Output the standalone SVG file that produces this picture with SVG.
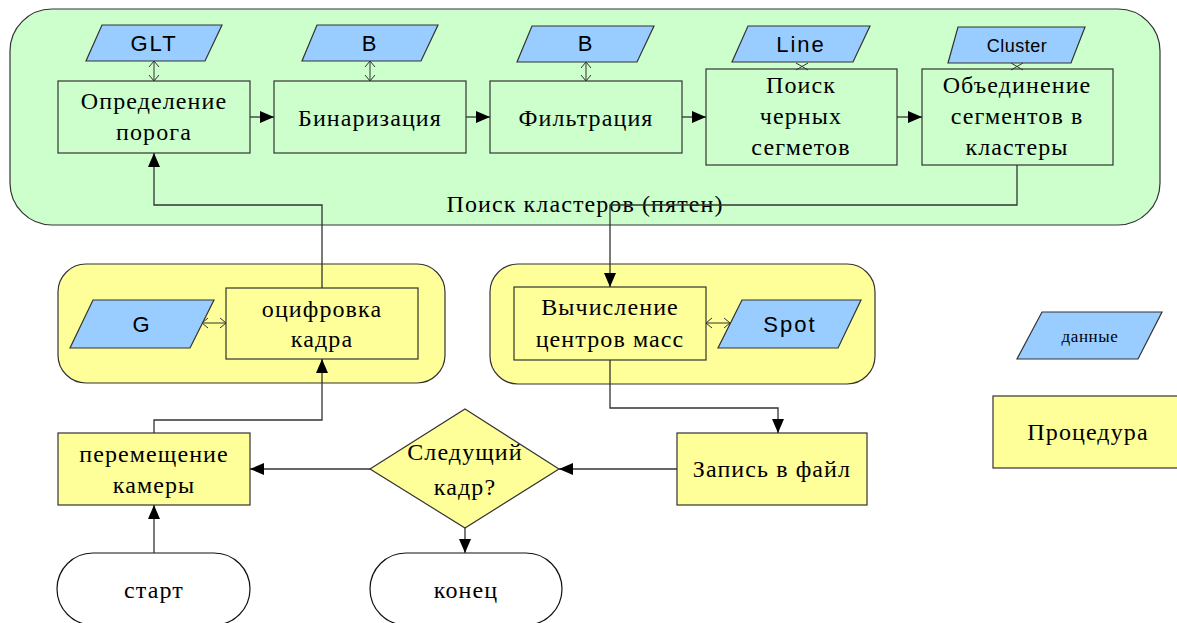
<svg xmlns="http://www.w3.org/2000/svg" width="1177" height="623" viewBox="0 0 1177 623">
<style>
.serif{font-family:"Liberation Serif","Times New Roman",serif;font-size:24px;fill:#000;text-anchor:middle;letter-spacing:1.1px}
.sans{font-family:"Liberation Sans",Arial,sans-serif;font-size:22px;fill:#000;text-anchor:middle;letter-spacing:2px}
.box{stroke:#333;stroke-width:1.2}
.green{fill:#ccffcc}
.yellow{fill:#ffff99}
.blue{fill:#99ccff}
.term{fill:#fff;stroke:#111;stroke-width:1.2}
.conn{fill:none;stroke:#333;stroke-width:1.3}
.dbl{fill:none;stroke:#333;stroke-width:1}
</style>
<defs>
<marker id="arr" markerUnits="userSpaceOnUse" markerWidth="14" markerHeight="12" refX="14" refY="6" orient="auto">
<path d="M0,0 L14,6 L0,12 z" fill="#000"/>
</marker>
<marker id="open" markerUnits="userSpaceOnUse" markerWidth="8" markerHeight="12" refX="7" refY="6" orient="auto-start-reverse">
<path d="M1,1 L7,6 L1,11" fill="none" stroke="#333" stroke-width="1"/>
</marker>
</defs>
<rect width="1177" height="623" fill="#fff"/>

<g id="cluster-search">
<rect class="box green" x="10" y="9" width="1150" height="216" rx="42" ry="42"/>
<text class="serif" x="585" y="212">Поиск кластеров (пятен)</text>
</g>
<g id="digitize-group"><rect class="box yellow" x="58" y="264" width="387" height="119" rx="28" ry="28"/></g>
<g id="centers-group"><rect class="box yellow" x="490" y="264" width="385" height="120" rx="28" ry="28"/></g>

<g id="glt"><polygon class="box blue" points="102,25 222,25 205,61 86,61"/><text class="sans" x="154" y="51">GLT</text></g>
<g id="b1"><polygon class="box blue" points="317,25 438,25 421,61 302,61"/><text class="sans" x="370" y="51">B</text></g>
<g id="b2"><polygon class="box blue" points="532,26 654,26 637,62 517,62"/><text class="sans" x="586" y="51">B</text></g>
<g id="line"><polygon class="box blue" points="748,26 870,26 853,62 732,62"/><text class="sans" x="801" y="52">Line</text></g>
<g id="cluster"><polygon class="box blue" points="958,27 1085,27 1071,63 948,63"/><text class="sans" x="1017" y="52" style="font-size:18px;letter-spacing:0.5px">Cluster</text></g>

<g id="threshold"><rect class="box green" x="58" y="81" width="192" height="72"/><text class="serif" x="154" y="109">Определение</text><text class="serif" x="154" y="140">порога</text></g>
<g id="binarize"><rect class="box green" x="274" y="81" width="192" height="72"/><text class="serif" x="370" y="126">Бинаризация</text></g>
<g id="filter"><rect class="box green" x="490" y="81" width="192" height="72"/><text class="serif" x="586" y="126">Фильтрация</text></g>
<g id="black-segments"><rect class="box green" x="706" y="69" width="191" height="96"/><text class="serif" x="801" y="93">Поиск</text><text class="serif" x="801" y="124">черных</text><text class="serif" x="801" y="155">сегметов</text></g>
<g id="merge"><rect class="box green" x="922" y="69" width="191" height="96"/><text class="serif" x="1017" y="93">Объединение</text><text class="serif" x="1017" y="124">сегментов в</text><text class="serif" x="1017" y="155">кластеры</text></g>

<g id="g-data"><polygon class="box blue" points="93,300 214,300 190,348 70,348"/><text class="sans" x="142" y="332">G</text></g>
<g id="digitize"><rect class="box yellow" x="226" y="288" width="192" height="71"/><text class="serif" x="322" y="317">оцифровка</text><text class="serif" x="322" y="347">кадра</text></g>
<g id="centers"><rect class="box yellow" x="514" y="287" width="192" height="73"/><text class="serif" x="610" y="315">Вычисление</text><text class="serif" x="610" y="347">центров масс</text></g>
<g id="spot"><polygon class="box blue" points="742,300 861,300 838,348 718,348"/><text class="sans" x="790" y="332">Spot</text></g>

<g id="move-camera"><rect class="box yellow" x="58" y="433" width="192" height="72"/><text class="serif" x="154" y="462">перемещение</text><text class="serif" x="154" y="493">камеры</text></g>
<g id="next-frame"><polygon class="box yellow" points="465,409 559,469 465,528 370,469"/><text class="serif" x="465" y="460">Следущий</text><text class="serif" x="465" y="495">кадр?</text></g>
<g id="write-file"><rect class="box yellow" x="677" y="433" width="190" height="72"/><text class="serif" x="772" y="477">Запись в файл</text></g>
<g id="start"><rect class="term" x="57" y="553" width="193" height="72" rx="36" ry="36"/><text class="serif" x="154" y="598">старт</text></g>
<g id="end"><rect class="term" x="370" y="553" width="192" height="72" rx="36" ry="36"/><text class="serif" x="466" y="598">конец</text></g>

<g id="legend-data"><polygon class="box blue" points="1042,312 1162,312 1138,359 1017,359"/><text class="serif" x="1090" y="342" style="font-size:17px;letter-spacing:0.6px">данные</text></g>
<g id="legend-proc"><rect class="box yellow" x="993" y="396" width="190" height="72"/><text class="serif" x="1088" y="440">Процедура</text></g>

<g id="connectors">
<path class="conn" d="M250,117 H274" marker-end="url(#arr)"/>
<path class="conn" d="M466,117 H490" marker-end="url(#arr)"/>
<path class="conn" d="M682,117 H706" marker-end="url(#arr)"/>
<path class="conn" d="M897,117 H922" marker-end="url(#arr)"/>
<path class="conn" d="M1017,165 V205 H610 V287" marker-end="url(#arr)"/>
<path class="conn" d="M322,288 V205 H154 V153" marker-end="url(#arr)"/>
<path class="conn" d="M154,433 V420 H322 V359" marker-end="url(#arr)"/>
<path class="conn" d="M610,360 V408 H778 V433" marker-end="url(#arr)"/>
<path class="conn" d="M677,469 H559" marker-end="url(#arr)"/>
<path class="conn" d="M370,469 H250" marker-end="url(#arr)"/>
<path class="conn" d="M465,528 V553" marker-end="url(#arr)"/>
<path class="conn" d="M154,553 V505" marker-end="url(#arr)"/>
<path class="dbl" d="M154,61 V81" marker-start="url(#open)" marker-end="url(#open)"/>
<path class="dbl" d="M370,61 V81" marker-start="url(#open)" marker-end="url(#open)"/>
<path class="dbl" d="M586,62 V81" marker-start="url(#open)" marker-end="url(#open)"/>
<path class="dbl" d="M202,323 H226" marker-start="url(#open)" marker-end="url(#open)"/>
<path class="dbl" d="M706,323 H730" marker-start="url(#open)" marker-end="url(#open)"/>
<path class="dbl" d="M796,63 L808,70 M796,70 L808,63"/>
<path class="dbl" d="M1011,63 L1023,70 M1011,70 L1023,63"/>
</g>
</svg>
